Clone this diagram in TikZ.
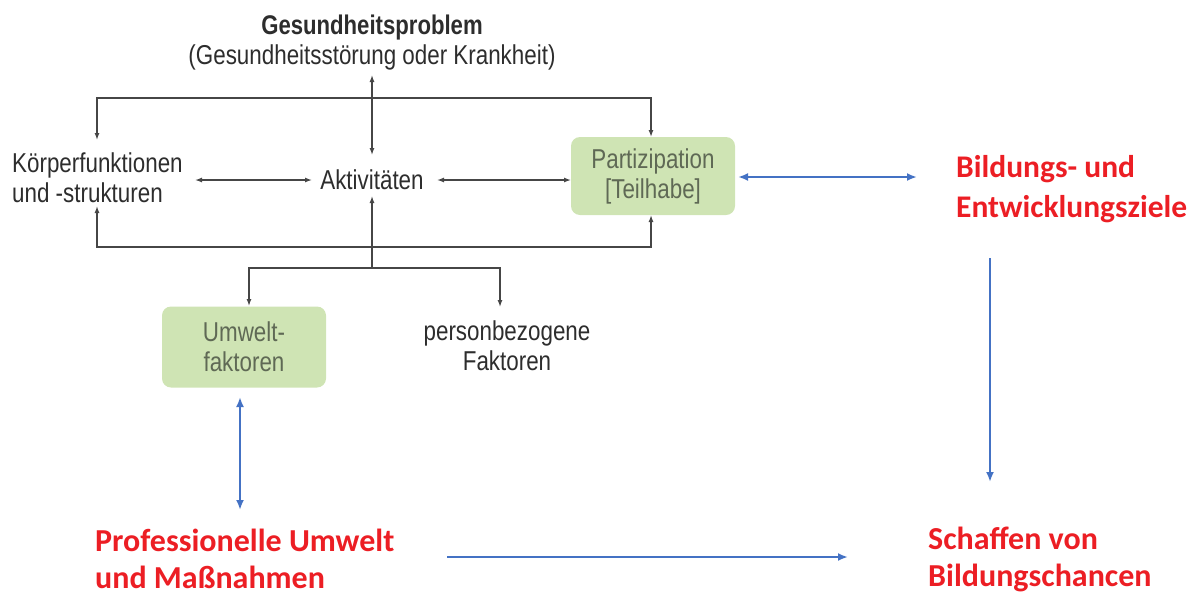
\documentclass[tikz,border=0pt]{standalone}
\usepackage{fontspec}
\setmainfont{Liberation Sans}
\newfontfamily\narrowfont{Liberation Sans}[FakeStretch=0.82]
\newfontfamily\calfont{Carlito}
\usetikzlibrary{arrows.meta}
\definecolor{boxgreen}{RGB}{207,228,180}
\definecolor{boxtext}{RGB}{95,105,85}
\definecolor{txt}{RGB}{45,45,45}
\definecolor{linegray}{RGB}{70,70,70}
\definecolor{oblue}{RGB}{68,114,196}
\definecolor{ored}{RGB}{236,30,36}
\tikzset{
  lbl/.style={font=\narrowfont\fontsize{27.3}{30}\selectfont, text=txt, inner sep=0pt},
  gbox/.style={lbl, fill=boxgreen, rounded corners=9pt, minimum width=164pt, text=boxtext},
  redlbl/.style={font=\calfont\bfseries\fontsize{32}{37}\selectfont, text=ored, inner sep=0pt},
  gline/.style={draw=linegray, line width=1.3pt, -{Latex[length=7pt,width=5pt]}},
  gline2/.style={gline, {Latex[length=7pt,width=5pt]}-{Latex[length=7pt,width=5pt]}},
  bline/.style={draw=oblue, line width=2.2pt, -{Latex[length=10pt,width=8pt]}},
  bline2/.style={bline, {Latex[length=10pt,width=8pt]}-{Latex[length=10pt,width=8pt]}}
}
\begin{document}
\begin{tikzpicture}[x=1pt,y=-1pt]
\useasboundingbox (0,0) rectangle (1202,592);
% texts
\node[lbl, font=\narrowfont\bfseries\fontsize{27}{30}\selectfont] (gp) at (372,28) {Gesundheitsproblem};
\node[lbl] (gps) at (372,57) {(Gesundheitsstörung oder Krankheit)};
\node[lbl, align=left, anchor=west] (koerper) at (12,178) {Körperfunktionen\\und -strukturen};
\node[lbl] (akt) at (372,180) {Aktivitäten};
\node[gbox, minimum height=78pt, align=center] (part) at (653,176) {Partizipation\\{[}Teilhabe{]}};
\node[gbox, minimum height=81pt, align=center] (umwelt) at (244,347) {Umwelt-\\faktoren};
\node[lbl, align=center] (person) at (507,346) {personbezogene\\Faktoren};
\node[redlbl, align=left, anchor=west, font=\calfont\bfseries\fontsize{31.5}{40}\selectfont] (bildung) at (956,189) {Bildungs- und\\Entwicklungsziele};
\node[redlbl, align=left, anchor=west] (prof) at (95,559) {Professionelle Umwelt\\und Maßnahmen};
\node[redlbl, align=left, anchor=west] (schaffen) at (928,559) {Schaffen von\\Bildungschancen};
% coordinates
\coordinate (gpb) at (372,75);
\coordinate (aktt) at (372,155);
\coordinate (aktb) at (372,196);
\coordinate (kt) at (97,140);
\coordinate (kb) at (97,206);
\coordinate (tl) at (97,98);
\coordinate (tr) at (651,98);
\coordinate (bl) at (97,247);
\coordinate (br) at (651,247);
\coordinate (pt) at (651,137);
\coordinate (pb) at (651,215);
\coordinate (ka) at (195,180);
\coordinate (ak1) at (312,180);
\coordinate (ak2) at (437,180);
\coordinate (pa) at (571,180);
\coordinate (br1) at (372,268);
\coordinate (brl) at (249,268);
\coordinate (brr) at (500,268);
\coordinate (ut) at (249,306);
\coordinate (pet) at (500,307);
% black connectors
\draw[gline2] (gpb) -- (aktt);
\draw[gline2] (kt) -- (tl) -- (tr) -- (pt);
\draw[gline2] (kb) -- (bl) -- (br) -- (pb);
\draw[gline2] (ka) -- (ak1);
\draw[gline2] (ak2) -- (pa);
\draw[gline] (br1) -- (aktb);
\draw[gline] (br1) -- (brl) -- (ut);
\draw[gline] (br1) -- (brr) -- (pet);
% blue connectors
\coordinate (bw) at (917,177);
\coordinate (pe) at (738,177);
\draw[bline2] (pe) -- (bw);
\coordinate (bs) at (990,258);
\coordinate (sn) at (990,482);
\draw[bline] (bs) -- (sn);
\coordinate (pre) at (447,557);
\coordinate (sw) at (848,557);
\draw[bline] (pre) -- (sw);
\coordinate (us) at (240,397);
\coordinate (pn) at (240,510);
\draw[bline2] (us) -- (pn);
\end{tikzpicture}
\end{document}
